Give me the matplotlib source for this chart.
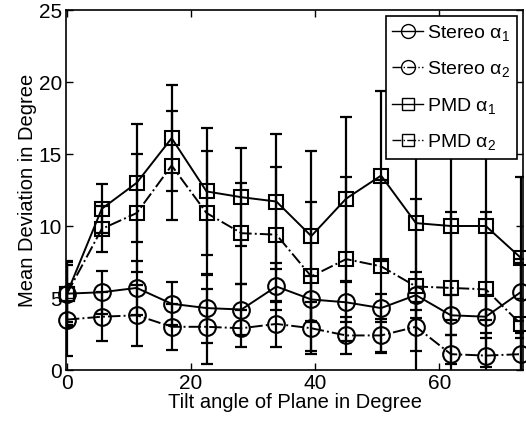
import numpy as np
import matplotlib
matplotlib.use("Agg")
import matplotlib.pyplot as plt

plt.rcParams['font.family'] = ['Liberation Sans', 'DejaVu Sans']
plt.rcParams['mathtext.fontset'] = 'custom'
plt.rcParams['mathtext.rm'] = 'Liberation Sans'
plt.rcParams['mathtext.it'] = 'Liberation Sans'

tilt = [0, 5.625, 11.25, 16.875, 22.5, 28.125, 33.75, 39.375, 45, 50.625, 56.25, 61.875, 67.5, 73.125]

stereo_a1 = [5.3, 5.4, 5.7, 4.6, 4.3, 4.2, 5.8, 4.9, 4.7, 4.3, 5.2, 3.8, 3.7, 5.4]
stereo_a1_err = [2.2, 1.5, 1.9, 1.5, 2.4, 1.8, 1.6, 1.6, 1.4, 1.0, 1.6, 1.4, 1.5, 2.0]
stereo_a2 = [3.5, 3.7, 3.8, 3.0, 3.0, 2.9, 3.2, 2.9, 2.4, 2.4, 3.0, 1.1, 1.0, 1.1]
stereo_a2_err = [2.5, 1.7, 2.1, 1.6, 2.6, 1.3, 1.6, 1.8, 1.3, 1.15, 1.7, 1.3, 1.6, 1.5]
pmd_a1 = [5.3, 11.2, 13.0, 16.1, 12.4, 12.0, 11.7, 9.3, 11.9, 13.5, 10.2, 10.0, 10.0, 7.8]
pmd_a1_err = [2.3, 1.7, 4.1, 3.7, 4.4, 3.4, 4.7, 5.9, 5.7, 5.9, 6.0, 6.5, 6.5, 5.6]
pmd_a2 = [5.3, 9.8, 10.9, 14.2, 10.9, 9.5, 9.4, 6.5, 7.7, 7.2, 5.8, 5.7, 5.6, 3.2]
pmd_a2_err = [2.0, 1.6, 4.1, 3.8, 4.3, 3.5, 4.7, 5.2, 5.7, 6.0, 6.1, 5.3, 5.4, 4.5]

labels = [r'Stereo $\alpha_1$', r'Stereo $\alpha_2$', r'PMD $\alpha_1$', r'PMD $\alpha_2$']

fig = plt.figure(figsize=(5.26, 4.23), dpi=100)
ax = fig.add_axes([66/526, 53/423, 457/526, 360/423])

series = [
    (stereo_a1, stereo_a1_err, 'o', '-', labels[0]),
    (stereo_a2, stereo_a2_err, 'o', '-.', labels[1]),
    (pmd_a1, pmd_a1_err, 's', '-', labels[2]),
    (pmd_a2, pmd_a2_err, 's', '-.', labels[3]),
]

handles = []
for vals, err, mk, ls, lab in series:
    ax.errorbar(tilt, vals, yerr=err, fmt='none', ecolor='black', elinewidth=1.6,
                capsize=4, capthick=1.6, zorder=2)
    ax.plot(tilt, vals, color='black', linestyle=ls, linewidth=1.4, zorder=3)
    ax.plot(tilt, vals, linestyle='none', marker=mk, markersize=12 if mk == 'o' else 9.5,
            markerfacecolor='none', markeredgecolor='black', markeredgewidth=1.5,
            clip_on=False, zorder=4)
    h, = ax.plot([], [], color='black', linestyle=ls, linewidth=1.0, marker=mk,
                 markersize=10 if mk == 'o' else 8, markerfacecolor='none',
                 markeredgecolor='black', markeredgewidth=1.0)
    handles.append(h)

ax.set_xlim(-0.15, 73.5)
ax.set_ylim(0, 25)
ax.set_xticks([0, 20, 40, 60])
ax.set_yticks([0, 5, 10, 15, 20, 25])
ax.tick_params(direction='in', top=True, right=True, labelsize=15, length=5, width=1,
               pad=3)
for s in ax.spines.values():
    s.set_linewidth(1.2)

ax.set_xlabel('Tilt angle of Plane in Degree', fontsize=14.5, labelpad=0)
ax.set_ylabel('Mean Deviation in Degree', fontsize=14.5, labelpad=1)

leg = ax.legend(handles, labels, loc='upper right', fontsize=14, frameon=True,
                fancybox=False, edgecolor='black', framealpha=1,
                borderaxespad=0.3, handlelength=1.6, handletextpad=0.2,
                labelspacing=0.85, borderpad=0.35)
leg.get_frame().set_linewidth(1.2)

fig.savefig('out.png', dpi=100)
